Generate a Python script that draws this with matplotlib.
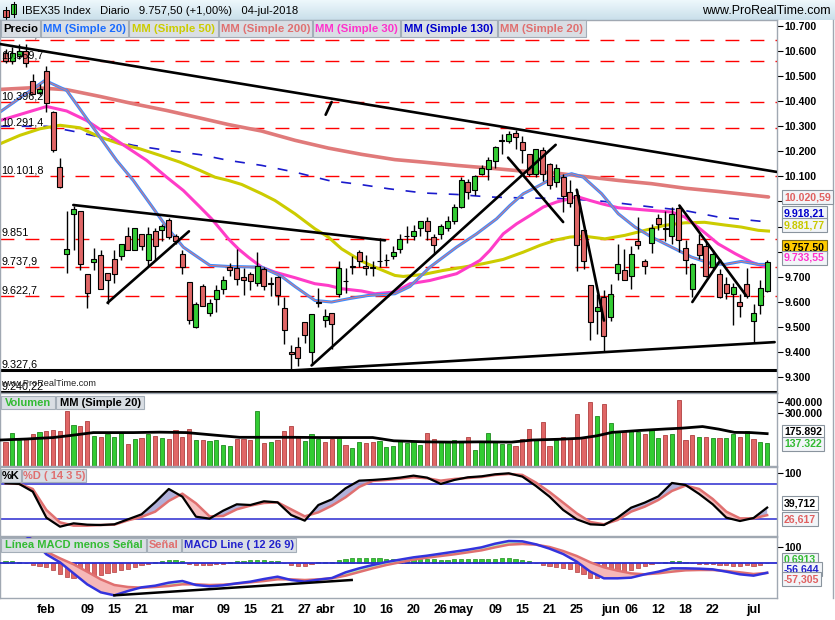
import numpy as np
import matplotlib
matplotlib.use('Agg')
import matplotlib.pyplot as plt
from matplotlib.patches import Rectangle
from matplotlib.colors import LinearSegmentedColormap
from matplotlib.ticker import NullLocator

plt.rcParams['font.family'] = ['Liberation Sans', 'DejaVu Sans']

# ---------------- data ----------------
opens = [10592,10560,10580,10600,10479,10433,10519,10355,10137,9792,
         9951,9962,9709,9757,9785,9714,9769,9781,9861,9805,
         9871,9768,9882,9885,9927,9862,9791,9677,9499,9661,
         9557,9613,9649,9738,9736,9698,9712,9674,9732,9675,
         9698,9577,9399,9419,9518,9398,9600,9528,9555,9632,
         9683,9741,9797,9741,9740,9761,9766,9781,9811,9861,
         9861,9895,9922,9858,9869,9894,9921,9980,10076,10044,
         10111,10131,10161,10242,10241,10273,10236,10188,10108,10204,
         10151,10076,10097,10038,10027,9887,9665,9563,9621,9541,
         9714,9728,9701,9841,9761,9834,9936,9892,9861,9975,
         9815,9652,9831,9821,9738,9709,9669,9632,9601,9669,
         9525,9589,9643]
highs = [10610,10615,10630,10629,10510,10470,10539,10361,10175,9964,
         9984,9964,9712,9815,9805,9714,9805,9831,9898,9895,
         9871,9898,9895,9911,9934,9871,9805,9677,9601,9672,
         9611,9665,9701,9754,9810,9736,9718,9798,9738,9698,
         9701,9619,9426,9459,9518,9553,9656,9572,9557,9762,
         9736,9781,9805,9785,9762,9855,9791,9821,9869,9901,
         9905,9922,9938,9871,9911,9944,9991,10097,10091,10104,
         10144,10177,10220,10268,10281,10286,10260,10190,10210,10217,
         10153,10151,10111,10087,10044,9887,9665,9632,9645,9672,
         9829,9809,9821,9938,9772,9911,9951,9962,9980,9984,
         9845,9754,9871,9838,9805,9732,9698,9674,9629,9736,
         9592,9688,9768]
lows = [10552,10550,10570,10536,10430,10423,10357,10197,10055,9716,
        9805,9725,9576,9725,9649,9592,9674,9768,9805,9805,
        9805,9738,9768,9842,9851,9831,9712,9510,9495,9585,
        9544,9559,9632,9701,9665,9628,9645,9661,9645,9623,
        9588,9430,9326,9342,9436,9346,9581,9499,9412,9619,
        9635,9709,9738,9708,9702,9738,9741,9771,9794,9834,
        9845,9861,9845,9791,9851,9882,9911,9975,10011,10024,
        10104,10087,10135,10188,10233,10210,10153,10100,10097,10081,
        10051,10057,9958,9978,9721,9729,9446,9472,9403,9525,
        9685,9685,9652,9811,9709,9794,9885,9842,9831,9798,
        9712,9619,9772,9698,9732,9616,9612,9506,9539,9616,
        9439,9552,9639]
closes = [10560,10592,10600,10552,10430,10450,10394,10206,10057,9810,
          9972,9752,9635,9770,9649,9685,9712,9829,9805,9893,
          9821,9871,9821,9901,9858,9842,9738,9528,9592,9585,
          9597,9645,9685,9725,9689,9685,9681,9741,9661,9672,
          9628,9486,9390,9377,9468,9553,9596,9545,9510,9736,
          9681,9738,9761,9735,9734,9762,9768,9798,9851,9862,
          9882,9922,9881,9825,9901,9922,9978,10084,10038,10100,
          10135,10164,10216,10244,10268,10257,10204,10108,10210,10108,
          10064,10135,10020,9994,9825,9762,9519,9579,9462,9629,
          9749,9685,9789,9825,9744,9895,9911,9890,9951,9847,
          9765,9752,9785,9701,9789,9619,9635,9658,9585,9625,
          9557,9656,9757.5]
volumes_k = [139,178,147,156,175,182,187,193,187,318,
             221,215,245,166,160,173,162,182,133,153,
             156,172,163,156,153,191,160,198,149,149,
             143,148,131,128,153,153,149,318,137,139,
             149,189,215,160,145,175,152,139,152,159,
             131,120,141,137,139,145,122,128,145,137,
             143,131,179,153,145,145,149,145,159,115,
             145,176,139,135,135,125,153,198,152,238,
             128,149,159,155,295,155,403,280,383,229,
             181,181,194,182,172,191,155,170,175,425,
             149,170,160,160,155,155,155,175,160,189,
             153,141,137]

# x tick labels (trading-day index, label)
tick_idx = [6,12,16,20,26,32,36,40,44,47,52,56,60,64,67,72,76,80,84,89,92,96,100,104,110]
tick_lab = ['feb','09','15','21','mar','09','15','21','27','abr','10','16','20','26','may',
            '09','15','21','25','jun','06','12','18','22','jul']

# moving averages (x = trading-day index)
ma20_x = [-0.82,5.79,8.98,11.43,13.88,16.33,18.78,21.24,23.69,26.14,28.59,30.06,32.76,37.66,40.6,42.56,45.5,47.95,50.4,53.3,57.26,59.47,62.4,66.33,69.27,72.21,74.17,76.14,78.1,80.06,82.02,83.24,84.96,87.66,90.11,92.56,95.01,97.95,100.9,103.8,105.8,108.2,110.7,112.2]
ma20_y = [10357,10483,10443,10350,10257,10164,10084,9991,9898,9818,9772,9745,9741,9738,9701,9661,9605,9599,9612,9625,9632,9661,9738,9818,9871,9931,9984,10031,10058,10087,10100,10111,10097,10031,9951,9898,9858,9818,9778,9752,9749,9761,9749,9749]
ma30_x = [-0.82,2.12,6.04,8.98,11.92,14.86,17.8,20.75,23.69,26.14,28.59,30.3,32.76,34.23,35.7,37.66,39.62,42.56,45.5,47.46,49.42,52.36,54.32,57.26,59.47,62.41,66.33,69.76,71.23,73.19,75.16,77.12,79.08,81.04,83.0,83.98,85.94,87.66,90.11,95.01,97.95,99.9,102.4,104.8,107.3,109.7,112.2]
ma30_y = [10323,10347,10379,10361,10323,10270,10217,10164,10097,10044,9978,9931,9851,9811,9778,9738,9718,9696,9672,9665,9652,9643,9632,9639,9672,9685,9712,9765,9805,9871,9911,9944,9978,9998,10011,10020,10004,9991,9975,9964,9958,9938,9885,9831,9792,9758,9734]
ma50_x = [-0.82,2.12,5.06,8.0,10.94,13.88,16.82,19.76,22.71,25.65,28.59,30.79,32.76,34.72,37.66,39.62,42.56,45.5,47.46,49.42,52.36,54.32,57.26,58.49,61.43,64.37,67.31,70.25,73.19,76.14,78.59,81.04,83.0,84.96,88.15,91.09,94.03,96.97,99.9,102.8,105.8,108.2,110.7,112.2]
ma50_y = [10230,10264,10290,10304,10294,10257,10230,10210,10184,10157,10124,10097,10084,10068,10031,10004,9951,9891,9858,9811,9762,9738,9705,9701,9709,9725,9738,9752,9769,9798,9825,9847,9858,9862,9851,9865,9885,9905,9915,9917,9906,9898,9885,9882]
ma200_x = [-0.82,4.08,8.98,13.88,18.78,23.69,28.59,32.76,37.66,42.56,47.46,52.36,57.26,61.43,66.33,71.23,76.14,81.04,85.94,90.11,95.01,99.9,104.8,112.2]
ma200_y = [10447,10454,10446,10419,10390,10363,10333,10307,10281,10244,10213,10188,10167,10157,10144,10133,10121,10113,10097,10084,10071,10053,10040,10018]
ma130_x = [-0.82,6.04,9.96,13.88,18.78,23.69,28.59,32.76,37.66,42.56,47.46,52.36,56.28,61.43,66.33,71.23,76.14,81.04,86.68,90.11,95.01,99.9,104.8,112.2]
ma130_y = [10300,10300,10280,10257,10224,10204,10187,10164,10144,10117,10084,10067,10051,10034,10028,10018,10014,10012,10004,9994,9978,9964,9938,9918]

# horizontal levels
levels = [10643.4,10559.7,10396.2,10291.4,10101.8,9851,9737.9,9622.7]
level_labels = ['10.643,4','10.559,7','10.396,2','10.291,4','10.101,8','9.851','9.737,9','9.622,7']
black_levels = [9327.6,9240.22]
black_labels = ['9.327,6','9.240,22']

# trend lines drawn on the chart: (x0, p0, x1, p1)
trend_lines = [(-0.82,10628,113.4,10118),(47.07,10346,47.95,10397),(9.96,9986,55.8,9845),
               (15.0,9596,26.97,9881),(45.0,9346,80.9,10226),(42.07,9326,113.1,9439),
               (73.9,10175,82.0,9918),(84.0,10047,88.0,9525),(99.1,9984,108.9,9625),
               (101.0,9599,105.1,9765)]

# volume moving average (thousands)
vma_x = [-0.82,3.09,7.0,9.36,12.9,18.8,22.7,26.6,30.5,34.4,42.2,46.2,54.0,57.1,61.8,65.7,69.7,74.4,77.5,81.4,84.5,86.9,89.2,93.1,97.1,99.4,102.5,104.9,107.2,109.6,112.0]
vma_y = [149,153,159,167,181,181,183,181,170,160,160,159,159,146,142,141,142,141,149,152,156,166,182,191,199,203,212,198,182,181,176]

# stochastic & MACD, sampled every 2 trading days
osc_x = list(range(0, 113, 2))
stoch_k = [81.7,80.6,67.3,22.3,6.7,12.5,10.2,9.6,10.8,19.4,28.1,48.8,71.9,58.6,24.0,20.6,34.4,45.4,44.2,50.6,
           48.8,26.9,17.1,44.2,54.0,73.1,86.3,87.5,89.2,91.5,95.0,91.5,80.6,87.5,92.1,93.8,97.3,99.0,93.3,77.1,
           58.6,35.6,19.4,10.8,9.6,22.3,39.6,48.3,59.2,82.3,78.8,63.3,45.4,22.3,16.5,21.7,39.7]
stoch_d = [81.7,80.6,71.9,35.6,14.2,8.5,8.5,9.6,10.2,17.7,23.5,32.7,51.2,63.8,47.1,24.6,25.2,36.7,43.1,47.7,
           48.8,36.7,24.6,31.5,43.1,57.5,75.4,85.8,87.5,89.8,92.1,90.4,86.3,89.2,91.0,92.7,96.2,97.9,96.2,82.9,
           66.7,48.3,29.8,14.8,10.8,18.3,32.7,41.3,52.9,68.5,77.7,71.9,54.6,32.7,21.1,21.1,26.6]
macd_line = [220,190,140,54,6,-60,-126,-174,-192,-166,-144,-134,-116,-106,-130,-138,-132,-120,-110,-94,
             -80,-100,-110,-98,-88,-54,-30,-10,8,22,36,46,58,70,82,96,118,134,132,114,
             88,56,10,-50,-90,-90,-86,-66,-50,-30,-30,-32,-36,-50,-66,-74,-56.6]
macd_signal = [230,200,140,70,30,-6,-50,-96,-130,-142,-146,-142,-136,-126,-126,-130,-128,-122,-114,-106,
               -96,-96,-100,-96,-90,-74,-52,-30,-10,6,22,34,44,54,66,78,96,112,116,112,
               98,74,44,6,-24,-44,-60,-66,-60,-50,-42,-40,-40,-46,-54,-64,-57.3]
macd_hist = [12,12,10,2,-8,-14,-24,-40,-62,-80,-88,-82,-76,-84,-72,-56,-50,-42,-36,-22,
             -12,-4,6,14,18,18,12,-4,-10,-10,-10,-6,-2,10,14,16,20,22,20,16,
             14,4,-10,-16,-16,-4,6,8,10,20,26,30,32,32,32,30,28,26,26,26,
             26,28,26,24,22,22,24,24,26,26,26,26,28,30,30,28,22,14,2,-10,
             -14,-20,-26,-34,-50,-64,-88,-86,-90,-80,-66,-56,-40,-26,-16,-6,4,10,14,12,
             8,2,-2,-6,-4,-12,-12,-14,-14,-12,-14,-8,0.69]
macd_trend = (16, -192, 50.9, -100)

# ---------------- figure ----------------
W, H = 835, 620
fig = plt.figure(figsize=(W / 100, H / 100), dpi=100)
fig.patch.set_facecolor('white')

def fx(x):
    return x / W

def fy(y):
    return 1 - y / H

def add_ax(top, bottom, left=0, right=777):
    return fig.add_axes([fx(left), fy(bottom), (right - left) / W, (bottom - top) / H])

GREEN = '#33cc33'
RED = '#e06666'
SPINE = '#a0a8b2'
XLIM = (-0.82, 113.45)
TICKFS = 7.6
n = len(closes)
xs = np.arange(n)

def style_ax(ax):
    ax.set_xlim(*XLIM)
    ax.set_facecolor('white')
    for s in ax.spines.values():
        s.set_color(SPINE)
        s.set_linewidth(1)
    ax.yaxis.tick_right()
    ax.tick_params(axis='y', direction='out', length=4, width=0.8, pad=1.5, labelsize=TICKFS,
                   colors='black')
    ax.set_xticks([])

def fmt_num(v):
    return f"{v:,.0f}".replace(',', '.')

# -------- title bar --------
axt = fig.add_axes([0, fy(20), 1, 20 / H])
grad = np.linspace(0, 1, 50).reshape(-1, 1)
cm = LinearSegmentedColormap.from_list('tb', ['#eef8fc', '#c9dfea'])
axt.imshow(grad, aspect='auto', cmap=cm, extent=[0, W, 20, 0])
axt.set_xlim(0, W)
axt.set_ylim(20, 0)
axt.axis('off')
axt.plot([6, 6], [7, 19], color='black', lw=0.8)
axt.add_patch(Rectangle((3, 10), 6, 7, fc='#e06060', ec='black', lw=0.7))
axt.plot([13.5, 13.5], [2, 17], color='black', lw=0.8)
axt.add_patch(Rectangle((11, 4), 5, 10, fc='#33cc33', ec='black', lw=0.7))
axt.text(22, 11, 'IBEX35 Index   Diario   9.757,50 (+1,00%)   04-jul-2018', fontsize=8.1,
         va='center', ha='left', color='black')
axt.text(831, 11, 'www.ProRealTime.com', fontsize=8.9, va='center', ha='right', color='black')

# -------- main price panel --------
PX_TOP, PX_BOT = 20, 393
SC = 0.2507  # px per point
ax = add_ax(PX_TOP, PX_BOT)
style_ax(ax)
ax.set_ylim(10700 - (PX_BOT - 26) / SC, 10700 + (26 - PX_TOP) / SC)
ax.set_yticks(np.arange(9300, 10701, 100))
ax.set_yticklabels([fmt_num(v) for v in np.arange(9300, 10701, 100)], fontweight='bold')

for p in levels:
    ax.axhline(p, color='#ff0000', lw=1.0, dashes=(10, 8), zorder=1)
for p in black_levels:
    ax.axhline(p, color='black', lw=2.2, zorder=1)
for p, s in zip(levels + black_levels, level_labels + black_labels):
    ax.text(-0.6, p + 3, s, fontsize=7.8, ha='left', va='bottom', color='black', zorder=6)
ax.text(-0.6, 9272, 'www.ProRealTime.com', fontsize=6.6, ha='left', va='center',
        color='#222222', zorder=6)

ax.plot(ma200_x, ma200_y, color='#e07a7a', lw=2.6, zorder=2, solid_capstyle='round')
ax.plot(ma130_x, ma130_y, color='#1a1acc', lw=1.2, dashes=(6, 7), zorder=2)
ax.plot(ma50_x, ma50_y, color='#cccc00', lw=2.2, zorder=2)
ax.plot(ma30_x, ma30_y, color='#ff3cc8', lw=2.2, zorder=2)
ax.plot(ma20_x, ma20_y, color='#3a8cff', lw=2.2, zorder=2)
ax.plot(ma20_x, ma20_y, color='#e07a7a', lw=0.7, zorder=2)

o = np.array(opens, float)
c = np.array(closes, float)
hi = np.array(highs, float)
lo = np.array(lows, float)
up = c >= o
ax.vlines(xs, lo, hi, color='black', lw=1.0, zorder=3)
body_lo = np.minimum(o, c)
body_h = np.maximum(np.abs(c - o), 2.5)
ax.bar(xs, body_h, bottom=body_lo, width=0.74, color=np.where(up, GREEN, RED),
       edgecolor='black', linewidth=0.8, zorder=4)

for x0, p0, x1, p1 in trend_lines:
    ax.plot([x0, x1], [p0, p1], color='black', lw=1.9, zorder=5, solid_capstyle='round')

# -------- volume panel --------
ax_v = add_ax(393, 466)
style_ax(ax_v)
ax_v.set_yscale('log')
ax_v.set_ylim(75.5, 510)
ax_v.yaxis.set_minor_locator(NullLocator())
ax_v.set_yticks([300, 400])
ax_v.set_yticklabels(['300.000', '400.000'], fontweight='bold')
vol_up = [False] + [closes[i] >= closes[i - 1] for i in range(1, n)]
vcol = [GREEN if u else RED for u in vol_up]
vedge = ['#1f8a1f' if u else '#b04040' for u in vol_up]
ax_v.bar(xs, volumes_k, bottom=1, width=0.62, color=vcol, edgecolor=vedge, linewidth=0.6, zorder=2)
ax_v.plot(vma_x, vma_y, color='black', lw=2.0, zorder=3)

# -------- stochastic panel --------
ax_s = add_ax(467, 536)
style_ax(ax_s)
ax_s.set_ylim(-9.4, 109.9)
ax_s.set_yticks([100])
ax_s.set_yticklabels(['100'], fontweight='bold')
ax_s.axhline(80, color='#2a2ad0', lw=1.1, zorder=1)
ax_s.axhline(20, color='#2a2ad0', lw=1.1, zorder=1)
k = np.array(stoch_k)
d = np.array(stoch_d)
ax_s.fill_between(osc_x, k, d, where=k >= d, interpolate=True, color='#a4a4d4', alpha=0.85, lw=0, zorder=2)
ax_s.fill_between(osc_x, k, d, where=k < d, interpolate=True, color='#f6bcbc', alpha=0.95, lw=0, zorder=2)
ax_s.plot(osc_x, d, color='#e07070', lw=1.8, zorder=3)
ax_s.plot(osc_x, k, color='black', lw=1.6, zorder=4)

# -------- MACD panel --------
ax_m = add_ax(537, 598)
style_ax(ax_m)
ax_m.set_ylim(-208, 158)
ax_m.set_yticks([100])
ax_m.set_yticklabels(['100'], fontweight='bold')
hist = np.array(macd_hist)
ax_m.bar(xs, hist, width=0.62, color=np.where(hist >= 0, GREEN, RED),
         edgecolor=np.where(hist >= 0, '#1f8a1f', '#b04040'), linewidth=0.5, zorder=2)
ax_m.axhline(0, color='#2a2ad0', lw=1.3, zorder=3)
ml = np.array(macd_line)
sg = np.array(macd_signal)
ax_m.fill_between(osc_x, ml, sg, where=ml >= sg, interpolate=True, color='#b6f0b6', lw=0, zorder=3)
ax_m.fill_between(osc_x, ml, sg, where=ml < sg, interpolate=True, color='#f6b8b8', lw=0, zorder=3)
ax_m.plot(osc_x, sg, color='#e07070', lw=1.8, zorder=4)
ax_m.plot(osc_x, ml, color='#3333dd', lw=1.8, zorder=5)
ax_m.plot([macd_trend[0], macd_trend[2]], [macd_trend[1], macd_trend[3]], color='black', lw=1.8, zorder=6)
ax_m.set_xticks(tick_idx)
ax_m.set_xticklabels(tick_lab, fontweight='bold', fontsize=9.0)
ax_m.tick_params(axis='x', length=0, pad=4)

# -------- legend rows --------
def legrow(y0, y1, items, fs=8.0):
    for x0, x1, s, col in items:
        fig.add_artist(Rectangle((fx(x0), fy(y1)), (x1 - x0) / W, (y1 - y0) / H,
                                 transform=fig.transFigure, fc='#d9dee4', ec='#a4aeb8', lw=0.8, zorder=8))
        fig.text(fx((x0 + x1) / 2), fy((y0 + y1) / 2 + 0.5), s, color=col, fontsize=fs,
                 fontweight='bold', ha='center', va='center', zorder=9)

legrow(20, 37, [(1, 40, 'Precio', 'black'), (41, 128, 'MM (Simple 20)', '#1a6cff'),
                (129, 218, 'MM (Simple 50)', '#cccc00'), (219, 312, 'MM (Simple 200)', '#e07070'),
                (313, 400, 'MM (Simple 30)', '#ff33cc'), (401, 497, 'MM (Simple 130)', '#0000cc'),
                (498, 586, 'MM (Simple 20)', '#e07070')], fs=8.2)
legrow(396, 409, [(1, 55, 'Volumen', '#33bb33'), (56, 144, 'MM (Simple 20)', 'black')])
legrow(469, 482, [(1, 21, '%K', 'black'), (22, 86, '%D ( 14 3 5)', '#e07070')])
legrow(538, 552, [(1, 146, 'Línea MACD menos Señal', '#33bb33'), (147, 181, 'Señal', '#e07070'),
                  (182, 296, 'MACD Line ( 12 26 9)', '#2222cc')])

# -------- value boxes on the right --------
def vbox(y, s, col, bg='#f2f5f8', ec='#8a949e'):
    fig.text(fx(784), fy(y), s, color=col, fontsize=TICKFS, fontweight='bold', ha='left', va='center',
             zorder=10, bbox=dict(boxstyle='square,pad=0.18', fc=bg, ec=ec, lw=0.8))

vbox(197, '10.020,59', '#e06060')
vbox(213, '9.918,21', '#0000cc')
vbox(225, '9.881,77', '#c8c800')
vbox(247, '9.757,50', 'black', bg='#ffcc00', ec='#7a6a20')
vbox(258, '9.733,55', '#ff33cc')
vbox(432, '175.892', 'black', bg='white')
vbox(444, '137.322', '#33bb33')
vbox(503, '39,712', 'black', bg='white')
vbox(519, '26,617', '#e06060')
vbox(560, '0,6913', '#33bb33')
vbox(569, '-56,644', '#2222cc')
vbox(579, '-57,305', '#e06060')

# outer border on the right
fig.add_artist(plt.Line2D([fx(833), fx(833)], [fy(598), fy(20)], transform=fig.transFigure,
                          color=SPINE, lw=1))

fig.savefig('out.png', dpi=100, facecolor='white')
